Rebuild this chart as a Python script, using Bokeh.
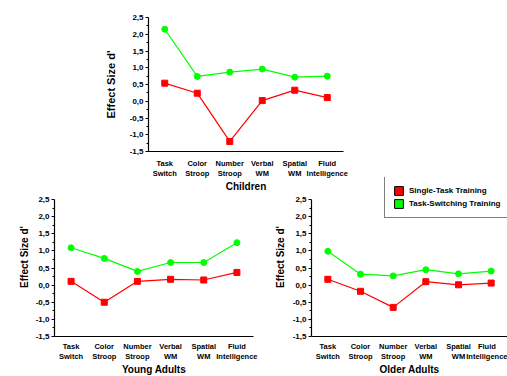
from bokeh.plotting import figure
from bokeh.models import FixedTicker, Range1d, Legend, LegendItem, ColumnDataSource
from bokeh.layouts import column, row
from bokeh.embed import file_html
from bokeh.resources import INLINE

categories = ["Task\nSwitch", "Color\nStroop", "Number\nStroop", "Verbal\nWM", "Spatial\nWM", "Fluid\nIntelligence"]
y_ticks = [-1.5, -1.0, -0.5, 0.0, 0.5, 1.0, 1.5, 2.0, 2.5]
y_tick_labels = ["-1,5", "-1,0", "-0,5", "0,0", "0,5", "1,0", "1,5", "2,0", "2,5"]
y_minor_ticks = [-1.25, -0.75, -0.25, 0.25, 0.75, 1.25, 1.75, 2.25]

series_names = ["Single-Task Training", "Task-Switching Training"]

children_single = [0.54, 0.24, -1.20, 0.02, 0.33, 0.11]
children_switch = [2.15, 0.74, 0.87, 0.96, 0.72, 0.75]
young_single = [0.11, -0.50, 0.11, 0.17, 0.15, 0.37]
young_switch = [1.09, 0.78, 0.40, 0.66, 0.66, 1.24]
older_single = [0.17, -0.18, -0.65, 0.10, 0.01, 0.06]
older_switch = [0.99, 0.32, 0.27, 0.45, 0.33, 0.41]

RED = "#FF0000"
GREEN = "#00FF00"
FONT = "Liberation Sans"


def make_panel(title, single, switch, fw, fh, left, right, top, bottom, x_end, y_end,
               ylab_size, ylab_standoff, xlab_standoff, title_standoff):
    xs = list(range(len(categories)))
    p = figure(frame_width=fw, frame_height=fh,
               x_range=Range1d(-0.5, x_end), y_range=Range1d(y_ticks[0], y_end),
               min_border_left=left, min_border_right=right,
               min_border_top=top, min_border_bottom=bottom,
               toolbar_location=None, tools="", output_backend="svg")
    p.outline_line_color = None
    p.background_fill_alpha = 0
    p.border_fill_alpha = 0
    p.xgrid.visible = False
    p.ygrid.visible = False

    p.line(xs, switch, line_color=GREEN, line_width=1.2)
    p.scatter(xs, switch, marker="circle", size=6, fill_color=GREEN, line_color=GREEN)
    p.line(xs, single, line_color=RED, line_width=1.2)
    p.scatter(xs, single, marker="square", size=6, fill_color=RED, line_color=RED)

    xa = p.xaxis[0]
    xa.ticker = FixedTicker(ticks=xs)
    xa.major_label_overrides = {i: c for i, c in zip(xs, categories)}
    xa.major_tick_line_color = None
    xa.minor_tick_line_color = None
    xa.major_tick_out = 0
    xa.major_tick_in = 0
    xa.axis_line_color = "black"
    xa.axis_line_width = 1.2
    xa.major_label_standoff = xlab_standoff
    xa.major_label_text_font = FONT
    xa.major_label_text_font_style = "bold"
    xa.major_label_text_font_size = "7.5px"
    xa.major_label_text_color = "black"
    xa.axis_label = title
    xa.axis_label_text_font = FONT
    xa.axis_label_text_font_style = "bold"
    xa.axis_label_text_font_size = "10px"
    xa.axis_label_text_color = "black"
    xa.axis_label_standoff = title_standoff

    ya = p.yaxis[0]
    ya.ticker = FixedTicker(ticks=y_ticks, minor_ticks=y_minor_ticks)
    ya.major_label_overrides = {t: l for t, l in zip(y_ticks, y_tick_labels)}
    ya.bounds = (y_ticks[0], y_ticks[-1])
    ya.axis_line_color = "black"
    ya.axis_line_width = 1.2
    ya.major_tick_out = 3
    ya.major_tick_in = 0
    ya.minor_tick_out = 2
    ya.minor_tick_in = 0
    ya.major_tick_line_color = "black"
    ya.minor_tick_line_color = "black"
    ya.major_label_standoff = 2
    ya.major_label_text_font = FONT
    ya.major_label_text_font_style = "bold"
    ya.major_label_text_font_size = "8px"
    ya.major_label_text_color = "black"
    ya.axis_label = "Effect Size d'"
    ya.axis_label_text_font = FONT
    ya.axis_label_text_font_style = "bold"
    ya.axis_label_text_font_size = ylab_size
    ya.axis_label_text_color = "black"
    ya.axis_label_standoff = ylab_standoff
    return p


# top panel: frame 148..343 x 17..151
top = make_panel("Children", children_single, children_switch,
                 195, 134, 148, 164, 17, 48, 5.5, 2.5, "11px", 10, 7, 0)

# bottom panels: frame extended above 2,5 (room for the legend); 2,5 sits at y=199
extra = 2.5 + 22 / (137 / 4.0)
young = make_panel("Young Adults", young_single, young_switch,
                   199, 159, 54, 17, 3, 46, 5.5, extra, "10px", 3, 5, 0)
older = make_panel("Older Adults", older_single, older_switch,
                   196, 159, 41, 0, 3, 46, 5.5, extra, "10px", 4, 5, 0)

# legend swatches (renderers whose only point is NaN, used only for the legend)
nan = float("nan")
swatch = ColumnDataSource(data=dict(l=[nan], r=[nan], b=[nan], t=[nan]))
r_single = older.quad(left="l", right="r", bottom="b", top="t", source=swatch,
                      fill_color=RED, line_color="black", line_width=1)
r_switch = older.quad(left="l", right="r", bottom="b", top="t", source=swatch,
                      fill_color=GREEN, line_color="black", line_width=1)
legend = Legend(items=[LegendItem(label=series_names[0], renderers=[r_single], index=0),
                       LegendItem(label=series_names[1], renderers=[r_switch], index=0)],
                location=(73, 118), orientation="vertical",
                glyph_width=11, glyph_height=11, label_height=11, label_width=10,
                label_standoff=5, spacing=2, padding=8, margin=0,
                label_text_font=FONT, label_text_font_style="bold",
                label_text_font_size="8px", label_text_color="black",
                border_line_color="black", border_line_width=1.2,
                background_fill_color="white", background_fill_alpha=1)
older.add_layout(legend)
top.margin = (0, 0, -25, 0)

layout = column(top, row(young, older, spacing=0), spacing=0)

open("out.html", "w").write(file_html(layout, INLINE))
